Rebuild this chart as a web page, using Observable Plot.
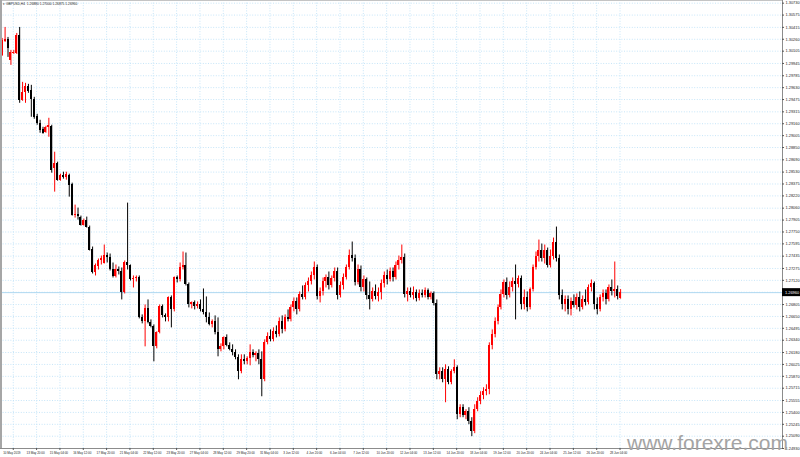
<!DOCTYPE html>
<html><head><meta charset="utf-8">
<script src="https://cdn.jsdelivr.net/npm/d3@7"></script>
<script src="https://cdn.jsdelivr.net/npm/@observablehq/plot@0.6"></script>
<style>html,body{margin:0;padding:0;background:#fff;overflow:hidden}</style>
</head><body><div id="chart"></div>
<script>
const symbol = "GBPUSD,H4";
const watermark = "www.forexre.com";
const open = [1.30050,1.30232,1.30258,1.29985,1.30076,1.30076,1.30310,1.29465,1.29569,1.29647,
1.29595,1.29478,1.29257,1.29166,1.29088,1.29049,1.29114,1.29127,1.28581,1.28646,
1.28425,1.28490,1.28464,1.28490,1.28373,1.27970,1.27983,1.27944,1.27840,1.27905,
1.27814,1.27528,1.27216,1.27294,1.27385,1.27346,1.27450,1.27424,1.27255,1.27164,
1.27255,1.27229,1.26956,1.27359,1.27307,1.27125,1.27138,1.27151,1.26631,1.26579,
1.26748,1.26566,1.26514,1.26254,1.26436,1.26774,1.26657,1.26631,1.26891,1.26735,
1.27151,1.27125,1.27281,1.27320,1.27060,1.26800,1.26826,1.26774,1.26800,1.26735,
1.26696,1.26631,1.26540,1.26579,1.26436,1.26215,1.26254,1.26371,1.26267,1.26215,
1.26176,1.26111,1.25929,1.26085,1.26059,1.26098,1.26176,1.26137,1.26163,1.26085,
1.25825,1.26306,1.26384,1.26345,1.26449,1.26410,1.26579,1.26475,1.26631,1.26605,
1.26761,1.26839,1.26735,1.26930,1.26891,1.27047,1.27099,1.27177,1.27281,1.26904,
1.26969,1.27099,1.27151,1.27047,1.27138,1.27229,1.26917,1.27047,1.27151,1.27281,
1.27450,1.27411,1.27086,1.27255,1.27021,1.27125,1.26917,1.26865,1.26969,1.26904,
1.26956,1.27073,1.27177,1.27125,1.27229,1.27151,1.27307,1.27385,1.27424,1.26930,
1.26969,1.26917,1.26956,1.26878,1.26943,1.26917,1.26982,1.26891,1.26943,1.26813,
1.25890,1.25929,1.25825,1.25955,1.25786,1.25929,1.25981,1.25370,1.25461,1.25357,
1.25409,1.25279,1.25149,1.25435,1.25539,1.25617,1.25669,1.25695,1.26267,1.26410,
1.26579,1.26761,1.26930,1.27086,1.26917,1.27021,1.27099,1.27060,1.27138,1.26800,
1.26891,1.26761,1.26995,1.27281,1.27437,1.27515,1.27411,1.27515,1.27320,1.27437,
1.27619,1.27411,1.26917,1.26800,1.26865,1.26735,1.26839,1.26787,1.26891,1.26761,
1.26865,1.26826,1.27021,1.27073,1.26800,1.26735,1.26891,1.26943,1.26865,1.27021,
1.26969,1.26995,1.26880];
const high = [1.30271,1.30414,1.30284,1.30115,1.30115,1.30336,1.30414,1.29699,1.29686,1.29673,
1.29660,1.29504,1.29283,1.29205,1.29114,1.29127,1.29231,1.29140,1.28789,1.28659,
1.28503,1.28529,1.28529,1.28503,1.28386,1.28100,1.28061,1.27957,1.27918,1.27944,
1.27827,1.27554,1.27333,1.27398,1.27437,1.27580,1.27476,1.27463,1.27346,1.27320,
1.27294,1.27281,1.27372,1.28126,1.27320,1.27177,1.27177,1.27177,1.26670,1.26800,
1.26865,1.26605,1.26540,1.26449,1.26800,1.26800,1.26683,1.26904,1.26917,1.27164,
1.27177,1.27346,1.27489,1.27476,1.27086,1.26839,1.26852,1.26839,1.26865,1.27008,
1.26904,1.26696,1.26605,1.26657,1.26631,1.26293,1.26384,1.26410,1.26306,1.26280,
1.26215,1.26150,1.26150,1.26150,1.26124,1.26280,1.26215,1.26189,1.26215,1.26189,
1.26345,1.26436,1.26475,1.26501,1.26527,1.26631,1.26657,1.26670,1.26735,1.26800,
1.26891,1.26891,1.26969,1.27047,1.27086,1.27151,1.27229,1.27359,1.27320,1.27021,
1.27151,1.27190,1.27229,1.27177,1.27281,1.27281,1.27099,1.27203,1.27320,1.27515,
1.27619,1.27450,1.27320,1.27307,1.27177,1.27151,1.27099,1.27021,1.27060,1.27021,
1.27125,1.27229,1.27255,1.27281,1.27281,1.27359,1.27437,1.27580,1.27463,1.27021,
1.27021,1.27034,1.26995,1.26995,1.26995,1.27021,1.27008,1.26969,1.26969,1.26865,
1.25981,1.25981,1.26020,1.25994,1.25955,1.26085,1.26007,1.25500,1.25500,1.25435,
1.25461,1.25331,1.25500,1.25591,1.25669,1.25721,1.25760,1.26306,1.26475,1.26631,
1.26800,1.26995,1.27125,1.27151,1.27099,1.27151,1.27320,1.27177,1.27177,1.26995,
1.26969,1.27021,1.27320,1.27489,1.27645,1.27593,1.27580,1.27541,1.27515,1.27671,
1.27814,1.27450,1.26995,1.26917,1.26917,1.26891,1.26930,1.26943,1.26969,1.26917,
1.26995,1.27060,1.27125,1.27099,1.26891,1.26930,1.26995,1.26995,1.27060,1.27125,
1.27359,1.27047,1.27000];
const low = [1.30037,1.30219,1.30024,1.29920,1.30063,1.30063,1.29426,1.29452,1.29426,1.29556,
1.29244,1.29218,1.29140,1.29036,1.29023,1.29036,1.28984,1.28516,1.28269,1.28412,
1.28412,1.28438,1.28425,1.28204,1.27957,1.27931,1.27905,1.27827,1.27827,1.27801,
1.27502,1.27203,1.27177,1.27255,1.27320,1.27333,1.27346,1.27242,1.27151,1.27151,
1.27190,1.26865,1.26943,1.27255,1.27112,1.27021,1.27099,1.26618,1.26553,1.26254,
1.26553,1.26501,1.26059,1.26228,1.26423,1.26631,1.26579,1.26579,1.26501,1.26709,
1.27086,1.27099,1.27255,1.27047,1.26761,1.26748,1.26735,1.26748,1.26709,1.26670,
1.26566,1.26527,1.26501,1.26410,1.26124,1.26189,1.26215,1.26254,1.26202,1.26137,
1.26085,1.25825,1.25903,1.26020,1.26020,1.26007,1.26111,1.26059,1.26020,1.25604,
1.25799,1.26280,1.26319,1.26319,1.26371,1.26384,1.26423,1.26449,1.26579,1.26579,
1.26709,1.26670,1.26709,1.26865,1.26865,1.26969,1.27060,1.27125,1.26865,1.26826,
1.26917,1.27021,1.26995,1.27021,1.27099,1.26865,1.26891,1.26995,1.27125,1.27255,
1.27359,1.27047,1.27060,1.26969,1.26969,1.26865,1.26735,1.26839,1.26865,1.26839,
1.26865,1.27021,1.27060,1.27099,1.27099,1.27125,1.27255,1.27333,1.26891,1.26839,
1.26891,1.26865,1.26839,1.26852,1.26891,1.26891,1.26865,1.26865,1.26787,1.25825,
1.25825,1.25786,1.25526,1.25760,1.25760,1.25903,1.25305,1.25331,1.25331,1.25305,
1.25240,1.25084,1.25123,1.25409,1.25500,1.25565,1.25617,1.25630,1.26215,1.26371,
1.26540,1.26735,1.26891,1.26865,1.26891,1.26969,1.26605,1.27021,1.26735,1.26735,
1.26709,1.26735,1.26969,1.27255,1.27359,1.27359,1.27333,1.27281,1.27281,1.27385,
1.27359,1.26865,1.26735,1.26709,1.26670,1.26657,1.26761,1.26735,1.26709,1.26735,
1.26787,1.26800,1.26969,1.26735,1.26670,1.26709,1.26839,1.26800,1.26839,1.26917,
1.26891,1.26865,1.26875];
const close = [1.30245,1.30258,1.30141,1.30089,1.30089,1.30310,1.29465,1.29569,1.29647,1.29582,
1.29478,1.29244,1.29166,1.29075,1.29036,1.29114,1.29140,1.28555,1.28646,1.28425,
1.28490,1.28464,1.28503,1.28360,1.27970,1.27983,1.27957,1.27840,1.27905,1.27814,
1.27515,1.27216,1.27307,1.27385,1.27411,1.27450,1.27424,1.27255,1.27164,1.27255,
1.27229,1.26956,1.27359,1.27307,1.27125,1.27138,1.27151,1.26631,1.26579,1.26748,
1.26566,1.26514,1.26254,1.26436,1.26774,1.26657,1.26631,1.26891,1.26735,1.27151,
1.27125,1.27281,1.27320,1.27060,1.26800,1.26826,1.26774,1.26800,1.26735,1.26696,
1.26631,1.26540,1.26579,1.26436,1.26215,1.26254,1.26371,1.26267,1.26215,1.26176,
1.26111,1.25929,1.26085,1.26059,1.26098,1.26176,1.26137,1.26163,1.26085,1.25825,
1.26306,1.26384,1.26345,1.26449,1.26410,1.26579,1.26475,1.26631,1.26605,1.26761,
1.26839,1.26735,1.26930,1.26891,1.27047,1.27099,1.27177,1.27281,1.26904,1.26969,
1.27099,1.27151,1.27047,1.27138,1.27229,1.26917,1.27047,1.27151,1.27281,1.27450,
1.27411,1.27086,1.27255,1.27021,1.27125,1.26917,1.26865,1.26969,1.26904,1.26956,
1.27073,1.27177,1.27125,1.27229,1.27151,1.27307,1.27385,1.27424,1.26930,1.26969,
1.26917,1.26956,1.26878,1.26943,1.26917,1.26982,1.26891,1.26943,1.26813,1.25890,
1.25929,1.25825,1.25955,1.25786,1.25929,1.25981,1.25370,1.25461,1.25357,1.25409,
1.25279,1.25149,1.25435,1.25539,1.25617,1.25669,1.25695,1.26267,1.26410,1.26579,
1.26761,1.26930,1.27086,1.26917,1.27021,1.27099,1.27060,1.27138,1.26800,1.26891,
1.26761,1.26995,1.27281,1.27437,1.27515,1.27411,1.27515,1.27320,1.27437,1.27619,
1.27411,1.26917,1.26800,1.26865,1.26735,1.26839,1.26787,1.26891,1.26761,1.26865,
1.26826,1.27021,1.27073,1.26800,1.26735,1.26891,1.26943,1.26865,1.27021,1.26969,
1.26995,1.26904,1.26960];
const timeLabels = ["10 May 2019","13 May 20:00","15 May 04:00","16 May 12:00","17 May 20:00","21 May 04:00","22 May 12:00","23 May 20:00","27 May 04:00","28 May 12:00","29 May 20:00","31 May 04:00","3 Jun 12:00","4 Jun 20:00","6 Jun 04:00","7 Jun 12:00","10 Jun 20:00","12 Jun 04:00","13 Jun 12:00","14 Jun 20:00","18 Jun 04:00","19 Jun 12:00","20 Jun 20:00","24 Jun 04:00","25 Jun 12:00","26 Jun 20:00","28 Jun 04:00"];
const priceTicks = [1.30730,1.30575,1.30415,1.30260,1.30105,1.29945,1.29785,1.29630,1.29475,1.29315,1.29160,1.29005,1.28850,1.28690,1.28530,1.28375,1.28220,1.28060,1.27905,1.27750,1.27595,1.27435,1.27275,1.27120,1.26965,1.26805,1.26650,1.26495,1.26340,1.26180,1.26025,1.25870,1.25715,1.25555,1.25400,1.25245,1.25090,1.24930];

const bars = open.map((o, i) => ({i, open: o, high: high[i], low: low[i], close: close[i], up: close[i] >= o}));
const last = bars[bars.length - 1];
const fmt = d3.format(".5f");
const labelIdx = timeLabels.map((_, k) => k * 8);
const gridIdx = labelIdx.map(d => d + 3.8);
const XD = [-0.573, 267.5], YD = [1.24930, 1.30765];
const UP = "#ff0000", DOWN = "#000000", GRID = "#c6e5f8";
const FONT = "Liberation Sans, Arial, sans-serif";

const chart = Plot.plot({
  width: 800, height: 457,
  marginLeft: 0, marginRight: 18, marginTop: 0, marginBottom: 9,
  x: {type: "linear", domain: XD, axis: null},
  y: {type: "linear", domain: YD, axis: null},
  color: {type: "identity"},
  style: {background: "#fff", fontFamily: FONT, overflow: "visible"},
  marks: [
    Plot.ruleY(priceTicks, {stroke: GRID, strokeDasharray: "1,1.6", strokeWidth: 1}),
    Plot.ruleX(gridIdx, {stroke: GRID, strokeDasharray: "1,1.6", strokeWidth: 1}),
    Plot.ruleY([last.close], {stroke: "#afd9f1", strokeWidth: 1}),
    Plot.ruleX(bars, {x: "i", y1: "low", y2: "high", stroke: d => d.up ? UP : DOWN, strokeWidth: 1}),
    Plot.rect(bars, {x1: d => d.i - 0.343, x2: d => d.i + 0.343, y1: "open", y2: "close", fill: d => d.up ? UP : DOWN, shapeRendering: "crispEdges"}),
    Plot.ruleX([XD[1]], {stroke: "#8c8c8c", strokeWidth: 1}),
    Plot.ruleY([YD[0]], {stroke: "#8c8c8c", strokeWidth: 1}),
    Plot.ruleY([YD[1]], {stroke: "#c4c4c4", strokeWidth: 1}),
    Plot.ruleY(priceTicks, {x1: XD[1], x2: XD[1] + 0.7, stroke: "#555"}),
    Plot.text(priceTicks, {x: XD[1], y: d => d, text: d => fmt(d), dx: 3, textAnchor: "start", fontSize: 3.9, fill: "#222"}),
    Plot.ruleX(gridIdx, {y1: YD[0], y2: YD[0] - 0.00026, stroke: "#555"}),
    Plot.text(labelIdx, {x: d => d, y: YD[0], text: (d, k) => timeLabels[k], dy: 4.2, dx: 1, textAnchor: "start", fontSize: 3.0, fill: "#222"}),
    Plot.text([`\u25BE ${symbol}  ${fmt(last.open)} ${fmt(last.high)} ${fmt(last.low)} ${fmt(last.close)}`], {frameAnchor: "top-left", dx: 2.5, dy: 2.5, lineAnchor: "top", textAnchor: "start", fontSize: 3.3, fill: "#222"})
  ]
});
document.getElementById("chart").appendChild(chart);

const svg = d3.select(chart);
const ys = chart.scale("y");
const yLast = ys.apply(last.close);
svg.append("rect").attr("x", 0).attr("y", 0).attr("width", 2).attr("height", 448).attr("fill", "#a6a6a6");
svg.append("rect").attr("x", 782).attr("y", yLast - 4).attr("width", 18).attr("height", 8).attr("fill", "#000");
svg.append("text").attr("x", 785).attr("y", yLast).attr("dy", "0.35em").attr("font-size", 3.9)
  .attr("text-anchor", "start").attr("font-family", FONT).attr("fill", "#fff").text(fmt(last.close));
svg.append("text").attr("x", 627).attr("y", 450).attr("font-size", 21).attr("text-anchor", "start")
  .attr("font-family", FONT).attr("fill", "#a4a4a4").text(watermark);
</script>
</body></html>
